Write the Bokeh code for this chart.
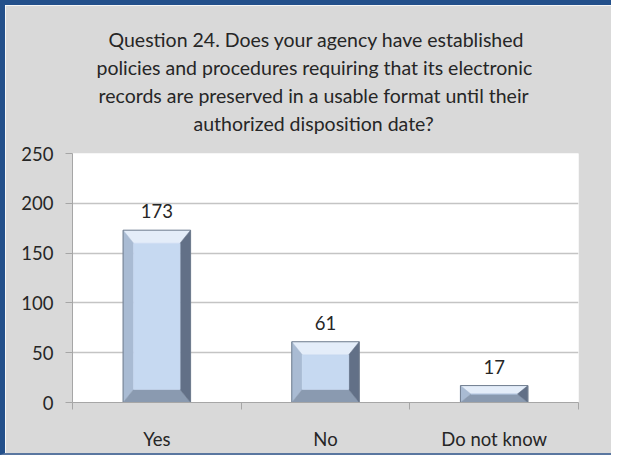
from bokeh.plotting import figure
from bokeh.models import FixedTicker, Range1d, Title
from bokeh.embed import file_html
from bokeh.resources import INLINE
from bokeh.core.properties import value

# ---- data ----
categories = ["Yes", "No", "Do not know"]
responses = [173, 61, 17]
y_ticks = [0, 50, 100, 150, 200, 250]
title_lines = [
    "Question 24.  Does your agency have established",
    "policies and procedures requiring that its electronic",
    "records are preserved in a usable format until their",
    "authorized disposition date?",
]
# horizontal offset of each title line from the plot frame's left edge (px)
title_offsets = [36, 24, 26, 121]

FONT = "Lato"
TEXT = "#262626"
GRID = "#c4c4c4"
AXIS = "#a6a6a6"
BG = "#d9d9d9"
BLUE = "#23508b"

n = len(categories)
p = figure(width=611, height=455, output_backend="svg", toolbar_location=None,
           x_range=Range1d(0, n), y_range=Range1d(0, 250),
           min_border_left=67, min_border_right=38,
           min_border_top=148, min_border_bottom=58)
p.styles = {"border-left": f"5px solid {BLUE}", "border-top": f"5px solid {BLUE}",
            "border-bottom": "2px solid #5a77a0"}
p.background_fill_color = "white"
p.border_fill_color = BG
p.outline_line_color = None

# spacer between the plot frame and the title block
spacer = Title(text=" ", text_font_size="1px", standoff=14, text_color=BG)
p.add_layout(spacer, "above")

# title lines: p.title is outermost; added titles stack outward from the frame
p.title.text = title_lines[0]
titles = [p.title]
for line in reversed(title_lines[1:]):
    t = Title(text=line)
    p.add_layout(t, "above")
    titles.append(t)
offs = [title_offsets[0]] + list(reversed(title_offsets[1:]))
for t, off in zip(titles, offs):
    t.align = "left"
    t.offset = off
    t.standoff = 2.5
    t.text_font = FONT
    t.text_font_size = "19.5px"
    t.text_font_style = "normal"
    t.text_color = TEXT

# grid
p.xgrid.grid_line_color = None
p.ygrid.ticker = FixedTicker(ticks=y_ticks)
p.ygrid.grid_line_color = GRID
p.ygrid.grid_line_width = 1.5

# y axis
p.yaxis.ticker = FixedTicker(ticks=y_ticks)
p.yaxis.axis_line_color = AXIS
p.yaxis.major_tick_line_color = AXIS
p.yaxis.major_tick_out = 7
p.yaxis.major_tick_in = 0
p.yaxis.minor_tick_line_color = None
p.yaxis.major_label_standoff = 12
p.yaxis.major_label_text_font = FONT
p.yaxis.major_label_text_font_size = "18.5px"
p.yaxis.major_label_text_color = TEXT

# x axis: labels at category centres, ticks at category boundaries
centers = [i + 0.5 for i in range(n)]
p.xaxis.ticker = FixedTicker(ticks=centers, minor_ticks=list(range(n + 1)))
p.xaxis.major_label_overrides = {c: cat for c, cat in zip(centers, categories)}
p.xaxis.axis_line_color = AXIS
p.xaxis.major_tick_line_color = None
p.xaxis.minor_tick_line_color = AXIS
p.xaxis.minor_tick_out = 7
p.xaxis.minor_tick_in = 0
p.xaxis.major_label_standoff = 18
p.xaxis.major_label_text_font = FONT
p.xaxis.major_label_text_font_size = "18.5px"
p.xaxis.major_label_text_color = TEXT

# bevelled bars
hw = 0.2
bx = 0.062
by = 13
faces = {"top": ([], [], "#e4edf9"), "left": ([], [], "#a9bbd3"),
         "bottom": ([], [], "#8a9ab0"), "right": ([], [], "#627087"),
         "inner": ([], [], "#c6d9f1")}
for c, v in zip(centers, responses):
    l, r, b, t = c - hw, c + hw, 0, v
    dy = min(by, v / 2)
    dx = bx
    faces["top"][0].append([l, r, r - dx, l + dx]); faces["top"][1].append([t, t, t - dy, t - dy])
    faces["bottom"][0].append([l, r, r - dx, l + dx]); faces["bottom"][1].append([b, b, b + dy, b + dy])
    faces["left"][0].append([l, l + dx, l + dx, l]); faces["left"][1].append([b, b + dy, t - dy, t])
    faces["right"][0].append([r, r - dx, r - dx, r]); faces["right"][1].append([b, b + dy, t - dy, t])
    faces["inner"][0].append([l + dx, r - dx, r - dx, l + dx]); faces["inner"][1].append([b + dy, b + dy, t - dy, t - dy])
for key, (xs, ys, col) in faces.items():
    p.patches(xs, ys, fill_color=col, line_color=col, line_width=0.5)
p.vbar(x=centers, top=responses, width=2 * hw, fill_color=None,
       line_color="#6f7c8e", line_width=1)

# value labels
p.text(x=centers, y=responses, text=[str(v) for v in responses],
       text_align="center", text_baseline="middle", y_offset=-19,
       text_font=value(FONT), text_font_size="18.5px", text_color=TEXT)

open("out.html", "w").write(file_html(p, INLINE))
